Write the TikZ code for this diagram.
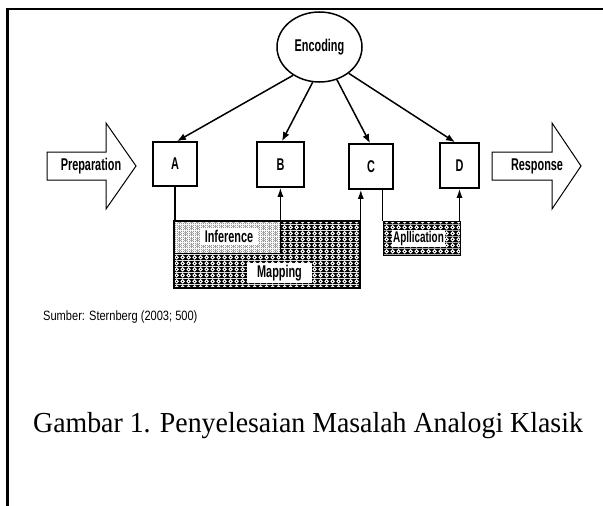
\documentclass[tikz,border=0pt]{standalone}
\usepackage{fontspec}
\setmainfont{Liberation Serif}
\newfontfamily\lbl[FakeStretch=0.64]{Liberation Sans}
\newfontfamily\srcfont[FakeStretch=0.82]{Liberation Sans}
\newfontfamily\capfont[FakeStretch=0.96]{Liberation Serif}
\usetikzlibrary{patterns,patterns.meta,arrows.meta,shapes.geometric}

\tikzdeclarepattern{
  name=mapfill,
  type=colored,
  bottom left={(0pt,0pt)},
  top right={(6pt,6pt)},
  tile size={(6pt,6pt)},
  code={
    \fill[black] (0pt,0pt) rectangle (6pt,6pt);
    \fill[white] (3pt,0.3pt) -- (5.7pt,3pt) -- (3pt,5.7pt) -- (0.3pt,3pt) -- cycle;
    \fill[black] (2.4pt,2.4pt) rectangle (3.6pt,3.6pt);
  }
}
\tikzdeclarepattern{
  name=inffill,
  type=colored,
  bottom left={(0pt,0pt)},
  top right={(2.2pt,2.2pt)},
  tile size={(2.2pt,2.2pt)},
  code={
    \fill[white] (0pt,0pt) rectangle (2.2pt,2.2pt);
    \fill[black] (0pt,0pt) rectangle (0.9pt,0.9pt);
  }
}

\tikzset{
  box/.style={draw, line width=1.6pt, fill=white, inner sep=0pt,
    font=\lbl\bfseries\fontsize{17}{17}\selectfont},
  lab/.style={inner sep=0pt, font=\lbl\bfseries\fontsize{17}{17}\selectfont},
  wlab/.style={lab, fill=white},
  conn/.style={line width=1.5pt, -{Latex[length=9pt,width=7pt]}},
  uparrow/.style={line width=1.3pt, -{Latex[length=9pt,width=6pt]}},
  plainline/.style={line width=1.3pt},
  bigarrow/.style={draw, line width=1pt, fill=white, line join=miter},
  frameline/.style={line width=2.6pt},
}

\begin{document}
\begin{tikzpicture}[x=1pt,y=-1pt]
\useasboundingbox (0,0) rectangle (603,506);
\clip (0,0) rectangle (603,506);

% frame
\draw[frameline] (7.5,520) -- (7.5,9) -- (620,9);

% encoding
\node[draw, ellipse, line width=1.5pt, minimum width=85pt, minimum height=70pt, inner sep=0pt,
      font=\lbl\bfseries\fontsize{17}{17}\selectfont] (enc) at (319.5,47) {Encoding};

% boxes
\node[box, minimum width=44pt, minimum height=44pt] (A) at (175,164) {A};
\node[box, minimum width=47pt, minimum height=45pt] (B) at (280.5,164.5) {B};
\node[box, minimum width=44pt, minimum height=45pt] (C) at (371,166.5) {C};
\node[box, minimum width=39pt, minimum height=45pt] (D) at (459.5,165.5) {D};

% arrows from encoding
\draw[conn] (enc.227) -- ([xshift=2pt]A.north);
\draw[conn] (enc.259) -- ([xshift=1.5pt]B.north);
\draw[conn] (enc.298) -- ([xshift=-1pt]C.north);
\draw[conn] (enc.318) -- ([xshift=-4.5pt]D.north);

% big arrows
\draw[bigarrow] (47,152) -- (106,152) -- (106,123) -- (136,166) -- (106,209) -- (106,180) -- (47,180) -- cycle;
\node[lab] (prep) at (91,166) {Preparation};
\draw[bigarrow] (492,152) -- (552,152) -- (552,123) -- (581,166) -- (552,209) -- (552,180) -- (492,180) -- cycle;
\node[lab] (resp) at (537,166) {Response};

% mapping / inference / application
\node[draw, line width=1.6pt, pattern=mapfill, minimum width=186pt, minimum height=67pt, inner sep=0pt] (map) at (267,254.5) {};
\node[draw, line width=0.8pt, pattern=inffill, minimum width=106pt, minimum height=32pt, inner sep=0pt] (inf) at (227,237) {};
\node[draw, line width=0.8pt, pattern=mapfill, minimum width=77pt, minimum height=34pt, inner sep=0pt] (app) at (421.5,238) {};

\node[wlab, minimum width=58pt, minimum height=17pt] (inflab) at (229,236.5) {Inference};
\node[wlab, minimum width=65pt, minimum height=20pt] (maplab) at (279.5,273) {Mapping};
\node[wlab, minimum width=53pt, minimum height=17pt, font=\lbl\bfseries\fontsize{15.5}{16}\selectfont] (applab) at (418.5,238.5) {Apllication};

% connectors below boxes
\draw[plainline] (A.south) -- (A.south |- map.north);
\draw[uparrow] (inf.north east) -- (inf.north east |- B.south);
\draw[uparrow] (map.north east) -- (map.north east |- C.south);
\draw[plainline] (app.north west |- C.south) -- (app.north west);
\draw[uparrow] (D.south |- app.north) -- (D.south);

% texts
\node[anchor=base west, inner sep=0pt, font=\srcfont\fontsize{13.5}{14}\selectfont] (src) at (43,320) {Sumber: Sternberg (2003; 500)};
\node[anchor=base west, inner sep=0pt, font=\capfont\fontsize{29}{32}\selectfont] (cap) at (33,432) {Gambar 1. Penyelesaian Masalah Analogi Klasik};
\end{tikzpicture}
\end{document}
